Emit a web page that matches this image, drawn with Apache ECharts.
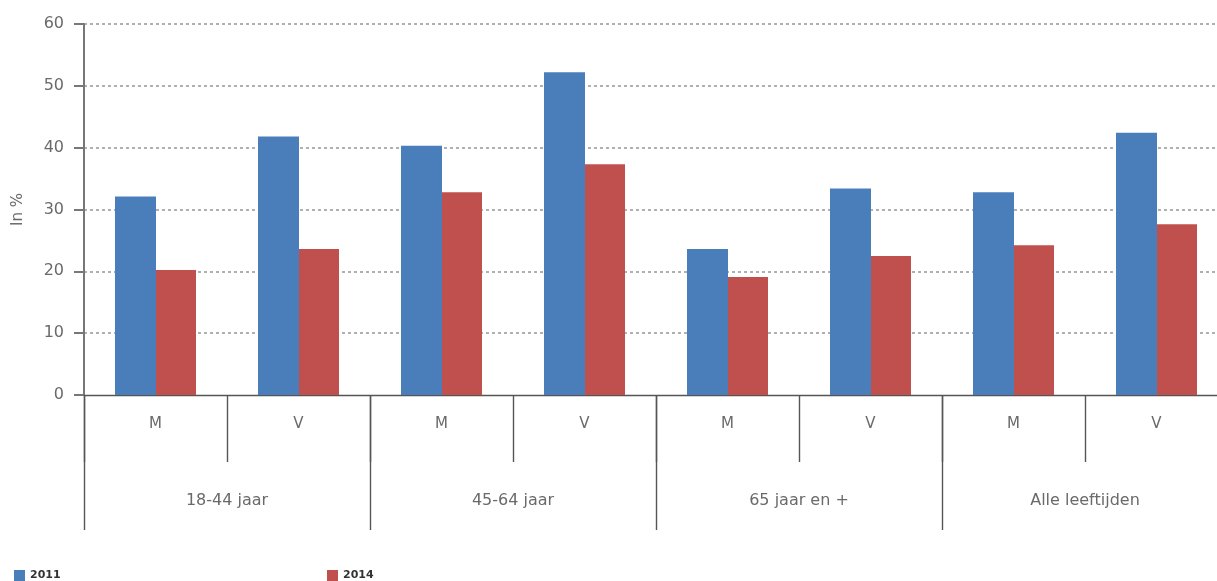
<!DOCTYPE html>
<html>
<head>
<meta charset="utf-8">
<script src="https://cdn.jsdelivr.net/npm/echarts@6/dist/echarts.min.js"></script>
<style>
  html, body { margin: 0; padding: 0; background: #fff; }
  #chart { width: 1217px; height: 581px; }
</style>
</head>
<body>
<div id="chart"></div>
<script>
// Sex within each age group, and the age groups themselves
const sexes = ['M', 'V', 'M', 'V', 'M', 'V', 'M', 'V'];
const ageGroups = ['18-44 jaar', '45-64 jaar', '65 jaar en +', 'Alle leeftijden'];
const yTicks = [0, 10, 20, 30, 40, 50, 60];

// Percentages per survey year
const values2011 = [32.1, 41.8, 40.3, 52.2, 23.6, 33.4, 32.8, 42.4];
const values2014 = [20.2, 23.6, 32.8, 37.3, 19.1, 22.5, 24.2, 27.6];

const font = 'DejaVu Sans';
const textGrey = '#6a6a6a';
const chart = echarts.init(document.getElementById('chart'), null, { renderer: 'canvas' });

chart.setOption({
  animation: false,
  backgroundColor: '#ffffff',
  legend: [
    {
      data: ['2011'], left: 9, top: 565, icon: 'rect', itemWidth: 11, itemHeight: 11, itemGap: 4,
      textStyle: { fontFamily: font, fontSize: 11, fontWeight: 'bold', color: '#333' }
    },
    {
      data: ['2014'], left: 322, top: 565, icon: 'rect', itemWidth: 11, itemHeight: 11, itemGap: 4,
      textStyle: { fontFamily: font, fontSize: 11, fontWeight: 'bold', color: '#333' }
    }
  ],
  // the last age group runs slightly past the right edge of the canvas
  grid: { left: 84, top: 24, width: 1144, height: 371, containLabel: false, outerBoundsMode: 'none' },
  xAxis: [
    {
      type: 'category',
      data: sexes,
      position: 'bottom',
      axisLine: { show: true, lineStyle: { color: '#555', width: 1.4 } },
      axisTick: { show: true, interval: 0, length: 67, lineStyle: { color: '#555', width: 1.4 } },
      axisLabel: { interval: 0, margin: 22, fontFamily: font, fontSize: 15, color: textGrey },
      splitLine: { show: false }
    },
    {
      type: 'category',
      data: ageGroups,
      position: 'bottom',
      axisLine: { show: false },
      axisTick: { show: true, interval: 0, length: 135, lineStyle: { color: '#555', width: 1.4 } },
      axisLabel: { interval: 0, margin: 98, fontFamily: font, fontSize: 16, color: textGrey },
      splitLine: { show: false }
    }
  ],
  yAxis: {
    type: 'value',
    min: yTicks[0],
    max: yTicks[yTicks.length - 1],
    interval: 10,
    name: 'In %',
    nameLocation: 'middle',
    nameRotate: 90,
    nameGap: 58,
    nameTextStyle: { fontFamily: font, fontSize: 15, color: textGrey },
    axisLine: { show: true, lineStyle: { color: '#777', width: 2 } },
    axisTick: { show: true, length: 10, lineStyle: { color: '#777', width: 2 } },
    axisLabel: { margin: 20, fontFamily: font, fontSize: 16, color: textGrey },
    splitLine: { show: true, showMinLine: false, lineStyle: { color: '#b0b0b0', type: [3, 3], width: 2 } }
  },
  series: [
    {
      name: '2011', type: 'bar', data: values2011, xAxisIndex: 0,
      barWidth: 41, barGap: '0%',
      itemStyle: { color: '#4a7ebb' }
    },
    {
      name: '2014', type: 'bar', data: values2014, xAxisIndex: 0,
      barWidth: 40, barGap: '0%',
      itemStyle: { color: '#c0504d' }
    }
  ]
});
</script>
</body>
</html>
